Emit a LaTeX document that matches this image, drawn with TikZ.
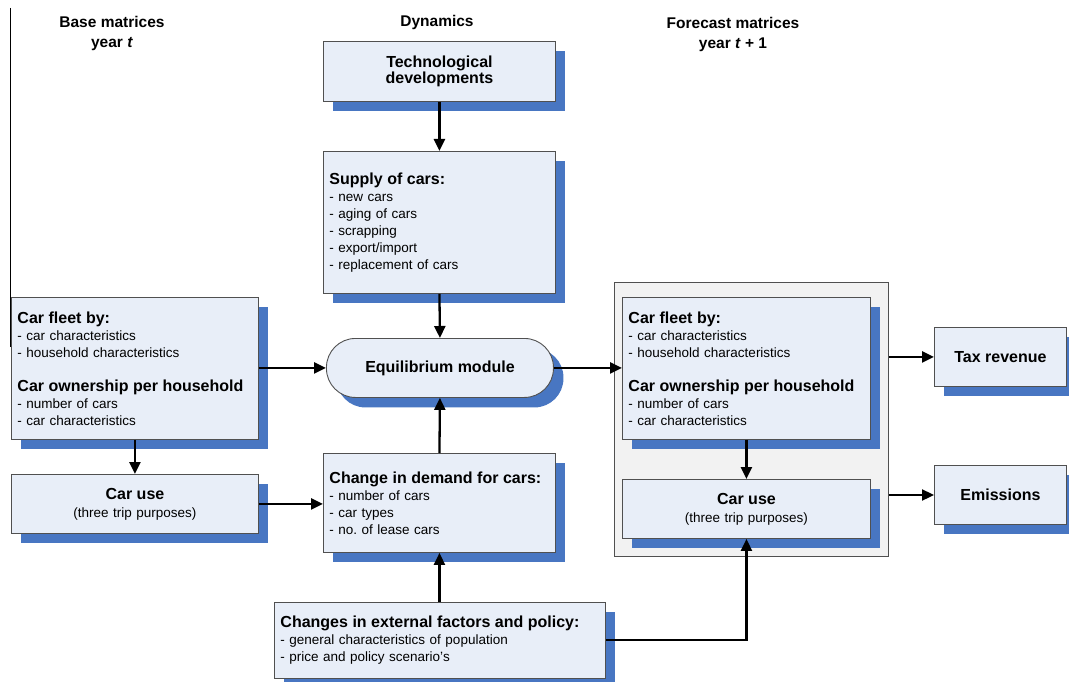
\documentclass[tikz,border=0pt]{standalone}
\usepackage{fontspec}
\setmainfont{Liberation Sans}
\usetikzlibrary{arrows.meta,shadows}
\definecolor{boxfill}{RGB}{232,238,248}
\definecolor{shadowblue}{RGB}{72,118,194}
\definecolor{boxline}{RGB}{80,80,80}
\definecolor{groupfill}{RGB}{242,242,242}
\tikzset{
  card/.style={draw=boxline, line width=0.9pt, fill=boxfill, rectangle,
    inner xsep=6pt, inner ysep=4pt, align=left, anchor=north west,
    font=\fontsize{13.5}{17}\selectfont,
    drop shadow={shadow xshift=10pt, shadow yshift=-10pt, fill=shadowblue, opacity=1, draw=none}},
  ccard/.style={card, align=center},
  flow/.style={line width=2.3pt, -{Triangle[length=12pt,width=11pt]}},
  hdr/.style={font=\fontsize{15.5}{20}\selectfont\bfseries, align=center, inner sep=0pt},
  grp/.style={draw=boxline, line width=0.9pt, fill=groupfill, anchor=north west, inner sep=0pt}
}
\newcommand{\hd}[1]{{\fontsize{16}{19}\selectfont\bfseries #1}}
\frenchspacing
\begin{document}
\begin{tikzpicture}[x=1pt,y=-1pt]
\useasboundingbox (0,0) rectangle (1069,682);
\draw[line width=0.9pt] (10,8) -- (10,347);

% headers
\node[hdr] (h1) at (112,33) {Base matrices\\year \textit{t}};
\node[hdr] (h2) at (437,22) {Dynamics};
\node[hdr] (h3) at (733,34) {Forecast matrices\\year \textit{t} + 1};

% group container
\node[grp, minimum width=274pt, minimum height=274pt] (grp) at (614,282) {};

% dynamics column
\node[ccard, minimum width=232pt, minimum height=60pt, text width=220pt] (tech) at (323,41)
  {\hd{Technological}\\[-1pt]\hd{developments}};
\node[card, minimum width=232pt, minimum height=142pt, text width=220pt] (supply) at (323,151)
  {\hd{Supply of cars:}\\- new cars\\- aging of cars\\- scrapping\\- export/import\\- replacement of cars};
\node[card, align=center, rounded corners=29pt, minimum width=227pt, minimum height=59pt, text width=215pt] (equil) at (326,338) {\hd{Equilibrium module}};
\node[card, minimum width=232pt, minimum height=99pt, text width=220pt] (demand) at (323,453)
  {\hd{Change in demand for cars:}\\- number of cars\\- car types\\- no.\ of lease cars};
\node[card, minimum width=331pt, minimum height=76pt, text width=319pt] (ext) at (274,602)
  {\hd{Changes in external factors and policy:}\\- general characteristics of population\\- price and policy scenario's};

% base column
\node[card, minimum width=247pt, minimum height=142pt, text width=235pt] (fleetL) at (11,297)
  {\hd{Car fleet by:}\\- car characteristics\\- household characteristics\\[17pt]\hd{Car ownership per household}\\- number of cars\\- car characteristics};
\node[ccard, minimum width=247pt, minimum height=59pt, text width=235pt] (useL) at (11,474)
  {\hd{Car use}\\[1pt](three trip purposes)};

% forecast column
\node[card, minimum width=248pt, minimum height=142pt, text width=236pt] (fleetR) at (622,297)
  {\hd{Car fleet by:}\\- car characteristics\\- household characteristics\\[17pt]\hd{Car ownership per household}\\- number of cars\\- car characteristics};
\node[ccard, minimum width=248pt, minimum height=59pt, text width=236pt] (useR) at (622,479)
  {\hd{Car use}\\[1pt](three trip purposes)};

\node[ccard, minimum width=132pt, minimum height=59pt, text width=120pt] (tax) at (934,327) {\hd{Tax revenue}};
\node[ccard, minimum width=132pt, minimum height=59pt, text width=120pt] (emis) at (934,465) {\hd{Emissions}};

% connectors
\draw[flow] (tech.south) -- (supply.north);
\draw[flow] (supply.south) -- (equil.north);
\draw[flow] (demand.north) -- (equil.south);
\draw[flow] (ext.north -| demand.north) -- (demand.south);
\draw[flow] (fleetL.east |- equil.west) -- (equil.west);
\draw[flow] (fleetL.south -| useL.north) -- (useL.north);
\draw[flow] (useL.east) -- (useL.east -| demand.west);
\draw[flow] (equil.east) -- (equil.east -| fleetR.west);
\draw[flow] (fleetR.south) -- (useR.north);
\draw[flow] (ext.east |- 0,640) -| (useR.south);
\draw[flow] (grp.east |- tax.west) -- (tax.west);
\draw[flow] (grp.east |- 0,495) -- (emis.west |- 0,495);
\end{tikzpicture}
\end{document}
